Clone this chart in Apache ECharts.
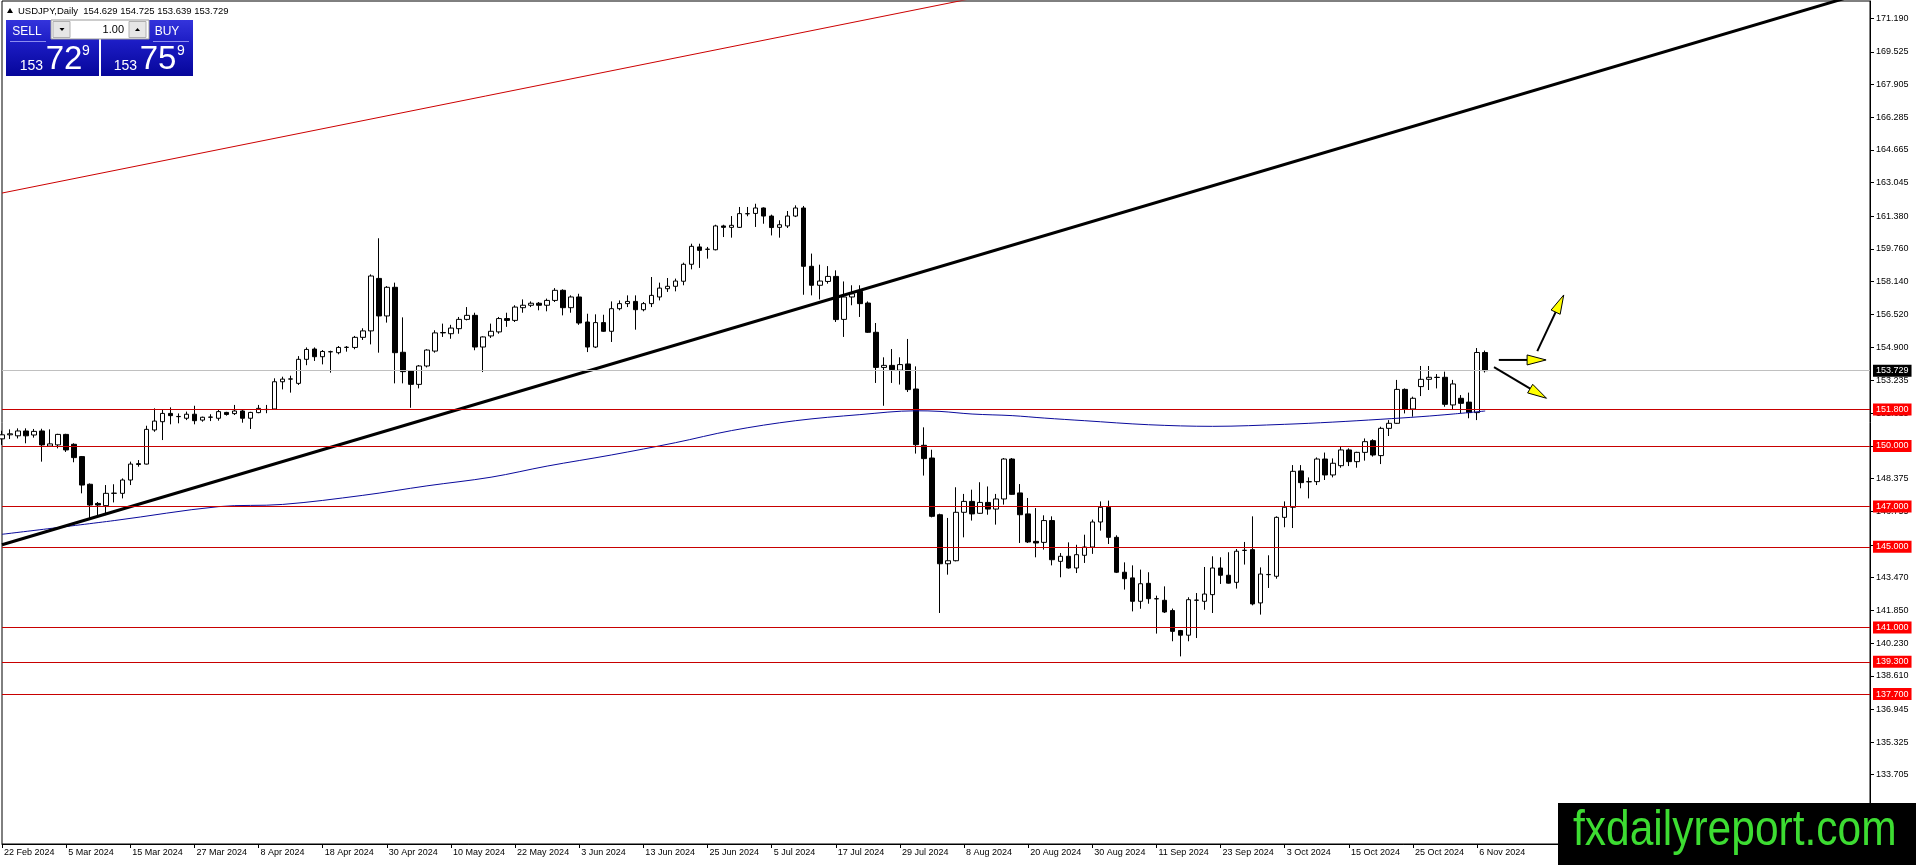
<!DOCTYPE html>
<html><head><meta charset="utf-8">
<script src="https://cdn.jsdelivr.net/npm/echarts@6/dist/echarts.min.js"></script>
<style>html,body{margin:0;padding:0;background:#fff;}#c{width:1916px;height:865px;}</style>
</head><body><div id="c"></div>
<script>
const symbolName = 'USDJPY,Daily';
const xTickLabels = ['22 Feb 2024','5 Mar 2024','15 Mar 2024','27 Mar 2024','8 Apr 2024','18 Apr 2024','30 Apr 2024','10 May 2024','22 May 2024','3 Jun 2024','13 Jun 2024','25 Jun 2024','5 Jul 2024','17 Jul 2024','29 Jul 2024','8 Aug 2024','20 Aug 2024','30 Aug 2024','11 Sep 2024','23 Sep 2024','3 Oct 2024','15 Oct 2024','25 Oct 2024','6 Nov 2024'];
const yTicks = [171.190,169.525,167.905,166.285,164.665,163.045,161.380,159.760,158.140,156.520,154.900,153.235,151.615,149.995,148.375,146.755,145.090,143.470,141.850,140.230,138.610,136.945,135.325,133.705,132.085];

const open = [150.35,150.55,150.50,150.74,150.54,150.74,149.99,150.05,150.57,150.08,149.47,148.10,147.15,147.04,147.65,147.65,148.31,149.12,149.10,150.79,151.20,151.61,151.45,151.37,151.57,151.28,151.42,151.37,151.66,151.60,151.73,151.37,151.65,151.80,151.83,153.18,153.31,153.10,154.29,154.80,154.42,154.67,154.62,154.88,154.88,155.38,155.70,158.30,156.44,157.86,154.64,153.71,153.05,153.96,154.70,155.60,155.56,155.81,156.27,156.47,154.90,155.45,155.65,156.31,156.22,156.85,156.97,157.07,156.97,157.21,157.71,156.85,157.38,156.14,154.90,156.11,155.68,156.80,157.05,157.16,156.75,157.05,157.38,157.79,157.91,158.16,159.00,159.86,159.74,159.72,160.90,160.83,160.83,161.50,161.52,161.79,161.39,160.83,160.90,161.39,161.79,158.90,157.96,158.15,158.40,156.27,157.38,157.66,157.08,155.63,153.89,153.99,153.75,154.06,152.82,150.03,149.40,146.59,144.16,144.31,146.71,147.25,146.66,147.20,146.87,147.37,149.35,147.67,146.63,145.27,145.22,146.30,144.28,144.53,143.95,144.58,144.99,146.23,146.96,145.47,143.74,143.46,142.30,143.19,142.43,142.35,141.84,140.85,140.62,142.35,142.30,142.63,143.95,143.59,143.24,144.82,144.86,142.22,143.62,143.54,146.46,146.96,148.76,148.22,148.23,149.35,148.56,149.02,149.80,149.22,149.68,150.26,149.52,150.87,151.12,152.80,151.83,152.94,153.30,153.40,153.40,152.03,152.36,152.17,151.65,154.629];
const high = [150.75,150.82,150.87,150.87,150.84,150.85,150.82,150.60,150.60,150.13,149.50,148.14,147.22,148.06,148.10,148.39,149.22,149.30,151.00,151.86,151.78,151.91,151.61,151.70,151.99,151.45,151.57,151.78,151.69,152.03,151.78,151.69,152.03,152.03,153.35,153.43,153.48,154.45,154.88,154.88,154.75,154.72,154.95,154.95,155.45,155.83,158.50,160.29,157.92,158.09,156.37,153.74,154.01,154.79,155.73,156.06,156.00,156.39,156.88,156.60,155.43,156.06,156.39,156.60,156.97,157.26,157.16,157.13,157.30,157.82,157.76,157.46,157.54,156.55,156.52,156.50,157.16,157.21,157.46,157.46,157.13,158.37,158.09,158.32,158.29,159.08,160.02,160.02,159.86,160.96,160.96,161.39,161.84,161.84,162.00,161.82,161.46,161.18,161.64,161.92,161.89,159.53,158.98,158.91,158.70,158.15,157.96,157.96,157.16,156.09,154.39,154.80,154.39,155.30,153.94,150.92,149.81,146.64,146.43,147.95,147.62,147.83,148.20,147.99,147.62,149.40,149.40,148.11,147.42,146.92,146.56,146.51,144.69,145.22,145.10,145.60,146.35,147.25,147.29,145.57,144.23,144.08,143.87,143.74,142.58,143.04,141.94,140.88,142.50,142.71,144.00,144.53,144.48,144.73,144.89,145.24,146.51,143.98,144.58,146.51,147.25,149.05,149.05,148.44,149.43,149.67,149.38,149.99,149.88,149.71,150.37,150.33,150.95,151.28,153.27,152.85,152.44,153.96,153.96,153.56,153.68,153.27,152.52,152.64,154.85,154.725];
const low = [150.05,150.34,150.37,150.13,150.41,149.22,149.95,149.88,149.70,149.19,147.65,146.41,146.50,146.57,147.20,147.40,148.06,148.97,149.08,150.70,150.29,151.07,151.12,151.28,151.07,151.20,151.23,151.25,151.50,151.53,151.15,150.84,151.62,151.62,151.78,152.80,152.64,153.02,154.00,154.21,154.04,153.63,154.54,154.67,154.79,155.25,155.03,154.62,156.11,153.10,153.10,151.89,152.85,153.89,154.62,155.40,155.31,155.56,156.22,154.74,153.66,155.35,155.56,155.90,156.14,156.60,156.88,156.72,156.67,157.13,156.47,156.60,156.00,154.65,154.85,155.65,155.15,156.72,156.88,155.76,156.67,156.88,157.21,157.63,157.66,157.96,158.75,158.82,159.28,159.69,160.35,160.32,160.80,161.38,160.85,161.01,160.43,160.32,160.80,161.34,157.49,157.46,157.26,158.04,156.14,155.40,156.97,156.39,155.60,153.12,151.99,153.12,153.04,152.67,149.62,148.53,146.46,141.72,143.62,144.28,145.47,146.30,146.63,146.59,146.10,147.09,147.58,145.19,145.19,144.48,144.86,144.08,143.49,143.92,143.70,144.20,144.65,145.80,145.14,143.70,142.88,141.80,141.93,142.18,140.70,141.72,140.32,139.57,140.32,140.48,141.88,141.72,143.16,143.18,142.93,144.12,142.10,141.64,142.96,143.42,145.97,145.93,147.90,147.40,148.06,148.31,148.44,148.92,149.00,148.92,149.27,149.47,149.10,150.49,151.09,151.61,151.45,152.47,152.77,152.85,151.94,151.81,151.61,151.37,151.28,153.639];
const close = [150.55,150.60,150.74,150.50,150.72,150.05,150.10,150.57,149.80,149.42,148.06,147.07,147.07,147.65,147.66,148.31,149.10,149.08,150.82,151.23,151.61,151.50,151.46,151.57,151.25,151.42,151.43,151.70,151.56,151.73,151.37,151.66,151.86,151.81,153.18,153.31,153.32,154.29,154.78,154.42,154.68,154.66,154.88,154.89,155.38,155.70,158.42,156.44,157.86,154.62,153.68,153.05,153.96,154.75,155.60,155.62,155.84,156.27,156.47,154.90,155.40,155.68,156.31,156.22,156.88,156.97,157.07,156.97,157.21,157.71,156.85,157.38,156.09,154.90,156.11,155.68,156.80,157.05,157.16,156.75,157.05,157.46,157.82,157.91,158.17,159.00,159.89,159.69,159.75,160.90,160.83,160.93,161.51,161.51,161.79,161.39,160.82,160.96,161.39,161.79,158.90,157.96,158.17,158.40,156.26,157.38,157.54,157.05,155.63,153.89,153.99,153.78,154.03,152.79,150.06,149.37,146.51,144.16,144.31,146.71,147.25,146.63,147.20,146.87,147.37,149.35,147.60,146.59,145.24,145.19,146.30,144.36,144.53,143.95,144.61,144.99,146.23,146.96,145.47,143.74,143.42,142.30,143.17,142.43,142.42,141.77,140.81,140.62,142.38,142.36,142.66,143.95,143.59,143.20,144.78,144.83,142.17,143.65,143.63,146.46,146.96,148.74,148.18,148.23,149.35,148.56,149.14,149.80,149.22,149.68,150.21,149.55,150.87,151.12,152.80,151.83,152.36,153.30,153.40,153.39,152.06,153.07,152.11,151.65,154.63,153.729];

const maBars   = [0,14,27,35,45,53,61,68,76,84,91,99,107,114,117,121,126,130,135,143,151,160,166,172,177,181,185];
const maValues = [145.62,146.30,146.99,147.10,147.55,148.02,148.45,149.00,149.55,150.16,150.76,151.25,151.55,151.74,151.71,151.58,151.50,151.38,151.25,151.05,150.97,151.07,151.18,151.32,151.45,151.58,151.73];

const levelPrices = [151.8,150.0,147.0,145.0,141.0,139.3,137.7];
const bidPrice = 153.729;
const askPrice = 153.759;
const blackTrend = [[0,145.10],[233,172.55]];
const redTrend = [[0,162.53],[233,181.10]];
const arrows = [[186.7,154.26,192.6,154.26],[191.5,154.70,194.8,157.48],[186.1,153.90,192.65,152.36]];

const SLOTS = 234;
const FONT = "'Liberation Sans', Arial, sans-serif";
const NARROW = "'Liberation Sans Narrow', 'Liberation Sans', Arial, sans-serif";

const categories = (() => {
  const out = []; const d = new Date(Date.UTC(2024, 1, 22));
  while (out.length < SLOTS) {
    const wd = d.getUTCDay();
    if (wd !== 0 && wd !== 6) out.push(d.toISOString().slice(0, 10));
    d.setUTCDate(d.getUTCDate() + 1);
  }
  return out;
})();
const lastIdx = close.length - 1;
const isTickIdx = (i) => i % 8 === 0 && i / 8 < xTickLabels.length;

function splitPrice(p) {
  const s = p.toFixed(3);
  return { big: s.slice(0, 3), mid: s.slice(4, 6), sup: s.slice(6) };
}
const bidParts = splitPrice(bidPrice), askParts = splitPrice(askPrice);

const chart = echarts.init(document.getElementById('c'), null, { renderer: 'canvas' });
const blue = () => new echarts.graphic.LinearGradient(0, 0, 0, 1, [
  { offset: 0, color: '#3434dc' }, { offset: 0.4, color: '#1c1cc4' }, { offset: 1, color: '#06069a' }]);

const headerText = symbolName + '  ' + [open[lastIdx], high[lastIdx], low[lastIdx], close[lastIdx]].map(v => v.toFixed(3)).join(' ');

const graphics = [
  { type: 'polygon', shape: { points: [[7, 13], [10, 8], [13, 13]] }, style: { fill: '#000' } },
  { type: 'text', x: 18, y: 11, style: { text: headerText, fill: '#000', font: '9.5px ' + FONT, textAlign: 'left', textVerticalAlign: 'middle' } },
  { type: 'rect', shape: { x: 6, y: 20, width: 93, height: 56 }, style: { fill: blue() } },
  { type: 'rect', shape: { x: 101, y: 20, width: 92, height: 56 }, style: { fill: blue() } },
  { type: 'rect', shape: { x: 51, y: 20, width: 98, height: 19 }, style: { fill: '#ffffff', stroke: '#9a9a9a', lineWidth: 1 } },
  { type: 'rect', shape: { x: 53, y: 21.5, width: 17, height: 16 }, style: { fill: '#e6e6e6', stroke: '#b0b0b0', lineWidth: 1 } },
  { type: 'rect', shape: { x: 129, y: 21.5, width: 17, height: 16 }, style: { fill: '#e6e6e6', stroke: '#b0b0b0', lineWidth: 1 } },
  { type: 'polygon', shape: { points: [[59.5, 28], [64.5, 28], [62, 31]] }, style: { fill: '#000' } },
  { type: 'polygon', shape: { points: [[135, 31], [140, 31], [137.5, 28]] }, style: { fill: '#000' } },
  { type: 'text', x: 124, y: 30, style: { text: '1.00', fill: '#000', font: '11px ' + FONT, textAlign: 'right', textVerticalAlign: 'middle' } },
  { type: 'line', shape: { x1: 10, y1: 41.5, x2: 46, y2: 41.5 }, style: { stroke: '#8c8cf0', lineWidth: 1 } },
  { type: 'line', shape: { x1: 153, y1: 41.5, x2: 189, y2: 41.5 }, style: { stroke: '#8c8cf0', lineWidth: 1 } },
  { type: 'text', x: 27, y: 31.5, style: { text: 'SELL', fill: '#fff', font: '12px ' + NARROW, textAlign: 'center', textVerticalAlign: 'middle' } },
  { type: 'text', x: 167, y: 31.5, style: { text: 'BUY', fill: '#fff', font: '12px ' + NARROW, textAlign: 'center', textVerticalAlign: 'middle' } },
  { type: 'text', x: 43, y: 66, style: { text: bidParts.big, fill: '#fff', font: '14px ' + NARROW, textAlign: 'right', textVerticalAlign: 'middle' } },
  { type: 'text', x: 64, y: 60, style: { text: bidParts.mid, fill: '#fff', font: '33px ' + NARROW, textAlign: 'center', textVerticalAlign: 'middle' } },
  { type: 'text', x: 86, y: 51, style: { text: bidParts.sup, fill: '#fff', font: '14px ' + NARROW, textAlign: 'center', textVerticalAlign: 'middle' } },
  { type: 'text', x: 137, y: 66, style: { text: askParts.big, fill: '#fff', font: '14px ' + NARROW, textAlign: 'right', textVerticalAlign: 'middle' } },
  { type: 'text', x: 158, y: 60, style: { text: askParts.mid, fill: '#fff', font: '33px ' + NARROW, textAlign: 'center', textVerticalAlign: 'middle' } },
  { type: 'text', x: 181, y: 51, style: { text: askParts.sup, fill: '#fff', font: '14px ' + NARROW, textAlign: 'center', textVerticalAlign: 'middle' } },
  { type: 'rect', shape: { x: 1558, y: 803, width: 358, height: 62 }, style: { fill: '#000' } },
  { type: 'text', x: 1573, y: 831, scaleX: 0.85, style: { text: 'fxdailyreport.com', fill: '#3ddc32', font: '50px ' + FONT, textAlign: 'left', textVerticalAlign: 'middle' } }
].map(g => Object.assign({ z: 100, silent: true }, g));

const levelLines = levelPrices.map(p => ({
  yAxis: p,
  lineStyle: { color: '#c80000', width: 1, type: 'solid' },
  label: { backgroundColor: '#ff0000' }
}));
levelLines.push({
  yAxis: bidPrice,
  lineStyle: { color: '#c0c0c0', width: 1, type: 'solid' },
  label: { backgroundColor: '#000000' }
});

chart.setOption({
  animation: false,
  backgroundColor: '#ffffff',
  grid: { left: 2, right: 46, top: 1, bottom: 21, show: true, borderColor: '#000', borderWidth: 1, backgroundColor: '#fff' },
  xAxis: [
    {
      type: 'category', data: categories, boundaryGap: false, gridIndex: 0,
      axisLine: { onZero: false, lineStyle: { color: '#000', width: 1 } },
      axisTick: { show: true, interval: (i) => isTickIdx(i), length: 4, lineStyle: { color: '#000' } },
      axisLabel: {
        interval: (i) => isTickIdx(i), align: 'left', margin: 4, padding: [0, 0, 0, 2],
        color: '#000', fontSize: 9, fontFamily: FONT,
        formatter: (v, i) => isTickIdx(i) ? xTickLabels[i / 8] : ''
      },
      splitLine: { show: false }
    },
    { type: 'value', gridIndex: 0, min: 0, max: SLOTS - 1, show: false, axisLine: { onZero: false } }
  ],
  yAxis: [{
    type: 'value', position: 'right', min: 130.273, max: 172.047,
    axisLine: { show: true, onZero: false, lineStyle: { color: '#000', width: 1 } },
    axisTick: { show: true, customValues: yTicks, length: 4, lineStyle: { color: '#000' } },
    axisLabel: { customValues: yTicks, margin: 6, color: '#000', fontSize: 9, fontFamily: FONT, formatter: (v) => Number(v).toFixed(3) },
    splitLine: { show: false }
  }],
  graphic: graphics,
  series: [
    {
      type: 'candlestick', xAxisIndex: 0, yAxisIndex: 0, z: 2, barWidth: 5,
      data: open.map((o, i) => [o, close[i], low[i], high[i]]),
      itemStyle: { color: '#ffffff', color0: '#000000', borderColor: '#000000', borderColor0: '#000000', borderWidth: 1 }
    },
    {
      type: 'line', xAxisIndex: 1, yAxisIndex: 0, z: 3, clip: false,
      data: maBars.map((b, i) => [b, maValues[i]]), symbol: 'none', smooth: 0.35,
      lineStyle: { color: '#0a0a9c', width: 1 },
      markLine: {
        silent: true, symbol: ['none', 'none'], animation: false, precision: 3,
        label: {
          show: true, position: 'end', distance: 3, color: '#fff', fontSize: 9, fontFamily: FONT,
          padding: [2, 3, 1, 3], formatter: (p) => Number(p.value).toFixed(3)
        },
        data: levelLines
      }
    },
    {
      type: 'line', xAxisIndex: 1, yAxisIndex: 0, z: 4, data: redTrend, symbol: 'none',
      lineStyle: { color: '#cc0000', width: 1 }
    },
    {
      type: 'line', xAxisIndex: 1, yAxisIndex: 0, z: 4, data: blackTrend, symbol: 'none',
      lineStyle: { color: '#000', width: 3 }
    },
    {
      type: 'custom', xAxisIndex: 1, yAxisIndex: 0, z: 6, clip: false,
      data: arrows, encode: { x: [0, 2], y: [1, 3] },
      renderItem: (params, api) => {
        const a = api.coord([api.value(0), api.value(1)]);
        const b = api.coord([api.value(2), api.value(3)]);
        const dx = b[0] - a[0], dy = b[1] - a[1], L = Math.hypot(dx, dy);
        const ux = dx / L, uy = dy / L, hl = 19, hw = 5;
        const bx = b[0] - ux * hl, by = b[1] - uy * hl;
        return {
          type: 'group', children: [
            { type: 'line', shape: { x1: a[0], y1: a[1], x2: bx, y2: by }, style: { stroke: '#000', lineWidth: 2 } },
            { type: 'polygon', shape: { points: [[b[0], b[1]], [bx - uy * hw, by + ux * hw], [bx + uy * hw, by - ux * hw]] },
              style: { fill: '#ffff00', stroke: '#000', lineWidth: 1 } }
          ]
        };
      }
    }
  ]
});
</script></body></html>
